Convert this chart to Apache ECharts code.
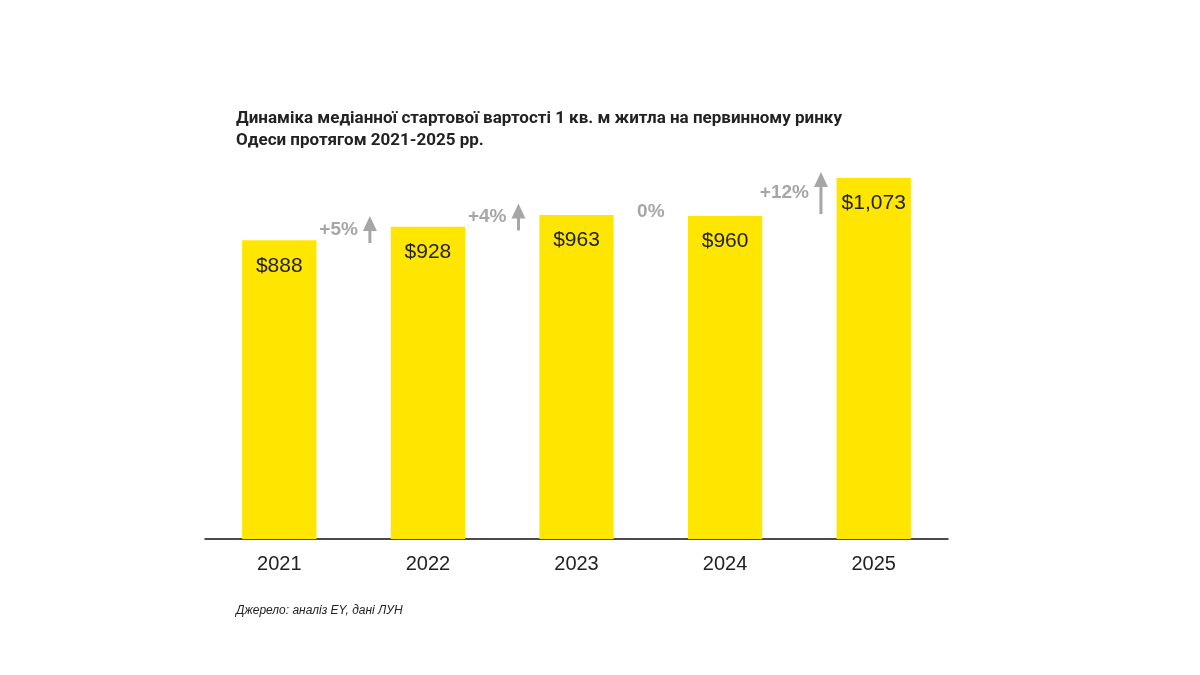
<!DOCTYPE html>
<html>
<head>
<meta charset="utf-8">
<script src="https://cdn.jsdelivr.net/npm/echarts@6/dist/echarts.min.js"></script>
<style>
  html, body { margin: 0; padding: 0; background: #fff; }
  #chart { width: 1200px; height: 675px; }
</style>
</head>
<body>
<div id="chart"></div>
<script>
// дані з графіка
const years = ["2021", "2022", "2023", "2024", "2025"];
const prices = [888, 928, 963, 960, 1073];
const changes = ["+5%", "+4%", "0%", "+12%"];

const titleText = "Динаміка медіанної стартової вартості 1 кв. м житла на первинному ринку\nОдеси протягом 2021-2025 рр.";
const sourceText = "Джерело: аналіз EY, дані ЛУН";

const YELLOW = "#FFE600";
const GREY = "#A6A6A6";
const FONT = "Liberation Sans, Arial, sans-serif";

// точка між сусідніми стовпцями: індекс і середнє значення
const changePoints = changes.map((c, i) => [i, (prices[i] + prices[i + 1]) / 2]);

const measureCtx = document.createElement("canvas").getContext("2d");
function textWidth(t, size) {
  measureCtx.font = "bold " + size + "px " + FONT;
  return measureCtx.measureText(t).width;
}

function renderChange(params, api) {
  const i = api.value(0);
  const v = api.value(1);
  const p0 = api.coord([i, v]);
  const p1 = api.coord([i + 1, v]);
  const mid = (p0[0] + p1[0]) / 2;
  const y = p0[1] - 4;
  const text = changes[params.dataIndex];
  const up = text !== "0%";
  const size = 19;
  const font = { fontSize: size, fontWeight: "bold", fontFamily: FONT };
  if (!up) {
    return {
      type: "text",
      style: Object.assign({ text, x: mid, y, fill: GREY, align: "center", verticalAlign: "middle" }, font)
    };
  }
  const cx = mid - 15;
  const ax = cx + textWidth(text, size) / 2 + 12;
  const len = Math.max(27, parseFloat(text) * 3.5);
  const top = y - len / 2, bot = y + len / 2;
  return {
    type: "group",
    children: [
      {
        type: "text",
        style: Object.assign({ text, x: cx, y, fill: GREY, align: "center", verticalAlign: "middle" }, font)
      },
      {
        type: "line",
        shape: { x1: ax, y1: bot, x2: ax, y2: top + 12 },
        style: { stroke: GREY, lineWidth: 3 }
      },
      {
        type: "polygon",
        shape: { points: [[ax, top], [ax - 7, top + 15], [ax + 7, top + 15]] },
        style: { fill: GREY }
      }
    ]
  };
}

const chart = echarts.init(document.getElementById("chart"), null, { renderer: "canvas" });
chart.setOption({
  animation: false,
  title: [
    {
      text: titleText,
      left: 231,
      top: 103,
      textStyle: { fontSize: 17, fontWeight: "bold", color: "#222", lineHeight: 22, fontFamily: "Roboto, sans-serif" }
    },
    {
      text: sourceText,
      left: 231,
      top: 600,
      textStyle: { fontSize: 12, fontWeight: "normal", fontStyle: "italic", color: "#222", fontFamily: FONT }
    }
  ],
  grid: { left: 205, right: 252, top: 169, bottom: 136 },
  xAxis: {
    type: "category",
    data: years,
    axisTick: { show: false },
    axisLine: { lineStyle: { color: "#111", width: 1.5 } },
    axisLabel: { fontSize: 20, color: "#222", margin: 15, fontFamily: FONT }
  },
  yAxis: {
    type: "value",
    min: 0,
    max: 1100,
    show: false
  },
  series: [
    {
      type: "bar",
      data: prices,
      barWidth: "50%",
      itemStyle: { color: YELLOW },
      label: {
        show: true,
        position: "insideTop",
        distance: 15,
        fontSize: 21,
        color: "#222",
        fontFamily: FONT,
        formatter: (p) => "$" + p.value.toLocaleString("en-US")
      }
    },
    {
      type: "custom",
      data: changePoints,
      renderItem: renderChange,
      silent: true,
      z: 5
    }
  ]
});
</script>
</body>
</html>
